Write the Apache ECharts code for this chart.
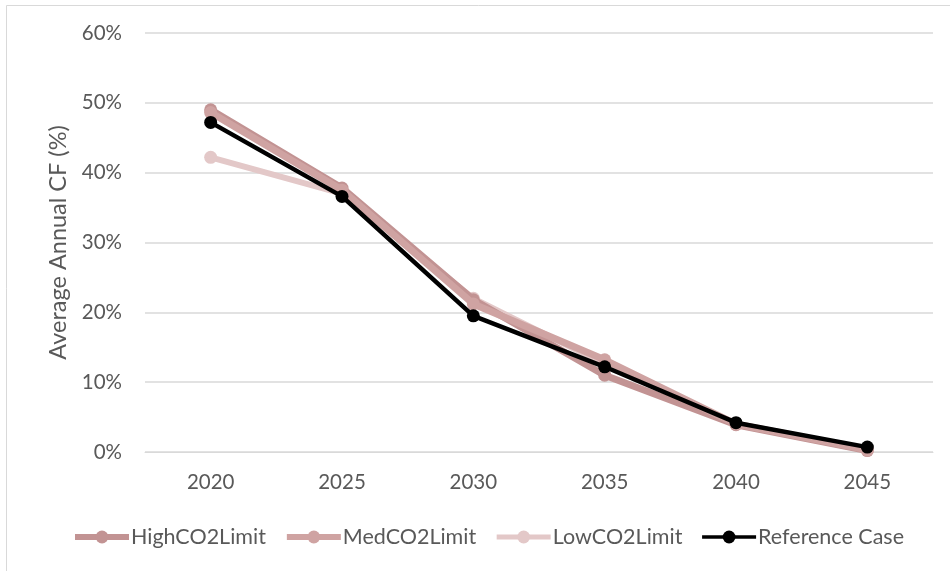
<!DOCTYPE html>
<html>
<head>
<meta charset="utf-8">
<script src="https://cdn.jsdelivr.net/npm/echarts@6/dist/echarts.min.js"></script>
<style>
  html, body { margin: 0; padding: 0; background: #fff; }
  #chart { width: 950px; height: 571px; }
</style>
</head>
<body>
<div id="chart"></div>
<script>
// Years on the category axis
const years = ['2020', '2025', '2030', '2035', '2040', '2045'];

// Average annual capacity factor (%) per scenario
const highCO2Limit = [49.0, 37.8, 21.8, 11.0, 3.9, 0.2];
const medCO2Limit = [48.6, 37.5, 21.2, 13.2, 4.0, 0.3];
const lowCO2Limit = [42.2, 37.0, 22.0, 12.6, 4.1, 0.4];
const referenceCase = [47.2, 36.6, 19.5, 12.2, 4.2, 0.7];

const yTicks = [0, 10, 20, 30, 40, 50, 60];

const font = 'Lato, "Open Sans", sans-serif';
const textColor = '#595959';

const styles = {
  'HighCO2Limit': { color: '#c29393', width: 7, z: 2 },
  'MedCO2Limit': { color: '#cfa3a2', width: 7, z: 3 },
  'LowCO2Limit': { color: '#e3c8c8', width: 6, z: 1 },
  'Reference Case': { color: '#000000', width: 4.5, z: 4 }
};

function lineSeries(name, data) {
  const s = styles[name];
  return {
    name: name,
    type: 'line',
    data: data,
    z: s.z,
    symbol: 'circle',
    symbolSize: 13,
    showSymbol: true,
    lineStyle: { color: s.color, width: s.width },
    itemStyle: { color: s.color, borderWidth: 0 },
    emphasis: { disabled: true },
    animation: false
  };
}

const legendNames = ['HighCO2Limit', 'MedCO2Limit', 'LowCO2Limit', 'Reference Case'];

const chart = echarts.init(document.getElementById('chart'));
chart.setOption({
  backgroundColor: '#ffffff',
  graphic: [{
    type: 'rect',
    shape: { x: 6.5, y: 5.5, width: 960, height: 600 },
    style: { fill: 'none', stroke: '#d9d9d9', lineWidth: 1 },
    silent: true
  }],
  grid: { left: 145, right: 17, top: 33, bottom: 119 },
  xAxis: {
    type: 'category',
    data: years,
    boundaryGap: true,
    axisLine: { lineStyle: { color: '#d9d9d9', width: 1 } },
    axisTick: { show: false },
    axisLabel: { color: textColor, fontSize: 20.5, fontFamily: font, margin: 20 }
  },
  yAxis: {
    type: 'value',
    min: yTicks[0],
    max: yTicks[yTicks.length - 1],
    interval: 10,
    name: 'Average Annual CF (%)',
    nameLocation: 'middle',
    nameRotate: 90,
    nameGap: 73,
    nameTextStyle: { color: textColor, fontSize: 23.5, fontFamily: font },
    axisLine: { show: false },
    axisTick: { show: false },
    axisLabel: { color: textColor, fontSize: 20.5, fontFamily: font, margin: 23, formatter: v => v + '%' },
    splitLine: { lineStyle: { color: '#d9d9d9', width: 1.5 } }
  },
  legend: {
    bottom: 23,
    left: 72,
    padding: 0,
    itemWidth: 54,
    itemHeight: 16,
    itemGap: 18,
    textStyle: { color: textColor, fontSize: 21.5, fontFamily: font, padding: [0, 0, 0, -3] },
    data: legendNames.map(n => ({
      name: n,
      lineStyle: { color: styles[n].color, width: styles[n].width - 1 },
      itemStyle: { color: styles[n].color }
    }))
  },
  series: [
    lineSeries('HighCO2Limit', highCO2Limit),
    lineSeries('MedCO2Limit', medCO2Limit),
    lineSeries('LowCO2Limit', lowCO2Limit),
    lineSeries('Reference Case', referenceCase)
  ]
});
</script>
</body>
</html>
